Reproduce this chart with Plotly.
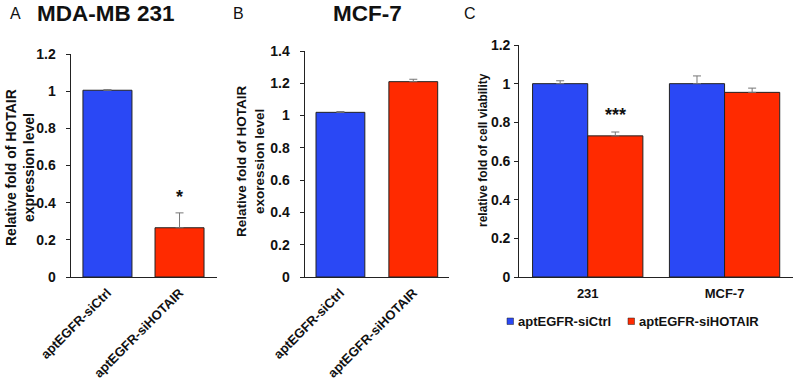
import plotly.graph_objects as go

W, H = 800, 381

# ---- data ----
cats_ab = ["aptEGFR-siCtrl", "aptEGFR-siHOTAIR"]
a_vals = [1.005, 0.265]
a_err = [0.003, 0.08]
b_vals = [1.02, 1.21]
b_err = [0.005, 0.015]
c_cats = ["231", "MCF-7"]
c_ctrl = [1.0, 1.0]
c_ctrl_err = [0.015, 0.04]
c_hot = [0.73, 0.955]
c_hot_err = [0.02, 0.022]
y_ticks_a = [0, 0.2, 0.4, 0.6, 0.8, 1.0, 1.2]
y_ticks_b = [0, 0.2, 0.4, 0.6, 0.8, 1.0, 1.2, 1.4]
y_tick_text_a = ["0", "0.2", "0.4", "0.6", "0.8", "1", "1.2"]
y_tick_text_b = ["0", "0.2", "0.4", "0.6", "0.8", "1", "1.2", "1.4"]

BLUE = "#2A48F5"
RED = "#FF2A00"
FONT = "Liberation Sans"
OUT = "#222222"
TXT = "#111111"


def px(x):
    return x / W


def py(y):
    return (H - y) / H


fig = go.Figure()

err_style = dict(type="data", symmetric=False, color="#777777", thickness=1, width=4)

fig.add_trace(go.Bar(x=cats_ab, y=a_vals, width=0.68,
                     marker=dict(color=[BLUE, RED], line=dict(color=OUT, width=1)),
                     error_y=dict(array=a_err, arrayminus=[0, 0], **err_style),
                     xaxis="x", yaxis="y", showlegend=False))
fig.add_trace(go.Bar(x=cats_ab, y=b_vals, width=0.67,
                     marker=dict(color=[BLUE, RED], line=dict(color=OUT, width=1)),
                     error_y=dict(array=b_err, arrayminus=[0, 0], **err_style),
                     xaxis="x2", yaxis="y2", showlegend=False))
fig.add_trace(go.Bar(x=c_cats, y=c_ctrl, width=0.403, offset=-0.403, name="aptEGFR-siCtrl",
                     marker=dict(color=BLUE, line=dict(color=OUT, width=1)),
                     error_y=dict(array=c_ctrl_err, arrayminus=[0, 0], **err_style),
                     xaxis="x3", yaxis="y3", showlegend=False))
fig.add_trace(go.Bar(x=c_cats, y=c_hot, width=0.403, offset=0, name="aptEGFR-siHOTAIR",
                     marker=dict(color=RED, line=dict(color=OUT, width=1)),
                     error_y=dict(array=c_hot_err, arrayminus=[0, 0], **err_style),
                     xaxis="x3", yaxis="y3", showlegend=False))

xfont = dict(family=FONT, size=13, color=TXT, weight="bold")
yfont = dict(family=FONT, size=14, color=TXT, weight="bold")
xcommon = dict(type="category", showline=True, linecolor=OUT, linewidth=1.3,
               ticks="", showgrid=False, zeroline=False, tickfont=xfont, automargin=False)
ycommon = dict(showline=True, linecolor=OUT, linewidth=1.3, ticks="outside",
               ticklen=4, tickcolor=OUT, showgrid=False, zeroline=False,
               tickfont=yfont, automargin=False)

fig.update_layout(
    template="none",
    width=W, height=H, margin=dict(l=0, r=0, t=0, b=0, pad=0), autosize=False,
    paper_bgcolor="white", plot_bgcolor="white", barmode="overlay",
    xaxis=dict(domain=[px(70.7), px(217)], range=[-0.51, 1.52], tickangle=-45, anchor="y",
               ticklabelstandoff=2, **xcommon),
    yaxis=dict(domain=[py(277), py(54)], range=[0, 1.2], tickvals=y_ticks_a,
               ticktext=y_tick_text_a, anchor="x", ticklabelstandoff=7, **ycommon),
    xaxis2=dict(domain=[px(304.7), px(449)], range=[-0.49, 1.49], tickangle=-45, anchor="y2",
                ticklabelstandoff=2, **xcommon),
    yaxis2=dict(domain=[py(277), py(51)], range=[0, 1.4], tickvals=y_ticks_b,
                ticktext=y_tick_text_b, anchor="x2", ticklabelstandoff=7, **ycommon),
    xaxis3=dict(domain=[px(519.3), px(793)], range=[-0.5, 1.5], anchor="y3",
                ticklabelstandoff=4, **xcommon),
    yaxis3=dict(domain=[py(277), py(45)], range=[0, 1.2], tickvals=y_ticks_a,
                ticktext=y_tick_text_a, anchor="x3", ticklabelstandoff=1, **ycommon),
)


def note(text, x, y, size, bold=True, angle=0, xanchor="center"):
    f = dict(family=FONT, size=size, color=TXT)
    if bold:
        f["weight"] = "bold"
    return dict(text=text, x=px(x), y=py(y), xref="paper", yref="paper", showarrow=False,
                xanchor=xanchor, yanchor="middle", textangle=angle, font=f)


ann = []
# panel letters
for letter, x in [("A", 15), ("B", 238), ("C", 470)]:
    ann.append(note(letter, x, 13, 16, bold=False))
# panel titles
ann.append(note("MDA-MB 231", 106, 14, 22.5))
ann.append(note("MCF-7", 367.5, 14, 22.5))
# y titles
ann.append(note("Relative fold of HOTAIR<br>expression level", 20, 168, 14, angle=-90))
ann.append(note("Relative fold of HOTAIR<br>exoression level", 251, 161, 13.5, angle=-90))
ann.append(note("relative fold of cell viability", 483, 150, 12, angle=-90))
# significance marks
ann.append(dict(text="*", x=cats_ab[1], y=0.43, xref="x", yref="y", showarrow=False,
                xanchor="center", yanchor="middle",
                font=dict(family=FONT, size=18, color=TXT, weight="bold")))
ann.append(dict(text="***", x=0.2, y=0.84, xref="x3", yref="y3", showarrow=False,
                xanchor="center", yanchor="middle",
                font=dict(family=FONT, size=18, color=TXT, weight="bold")))
# custom legend
shapes = []
for color, label, x0 in [(BLUE, "aptEGFR-siCtrl", 507), (RED, "aptEGFR-siHOTAIR", 628)]:
    shapes.append(dict(type="rect", xref="paper", yref="paper", x0=px(x0), x1=px(x0 + 6.5),
                       y0=py(324.5), y1=py(318), fillcolor=color, line=dict(color=OUT, width=0.5)))
    ann.append(note(label, x0 + 8.5, 321, 13, xanchor="left"))

fig.update_layout(annotations=ann, shapes=shapes)
fig.write_html("out.html", config={"displayModeBar": False},
               post_script="document.body.style.margin='0px';document.body.style.overflow='hidden';")
